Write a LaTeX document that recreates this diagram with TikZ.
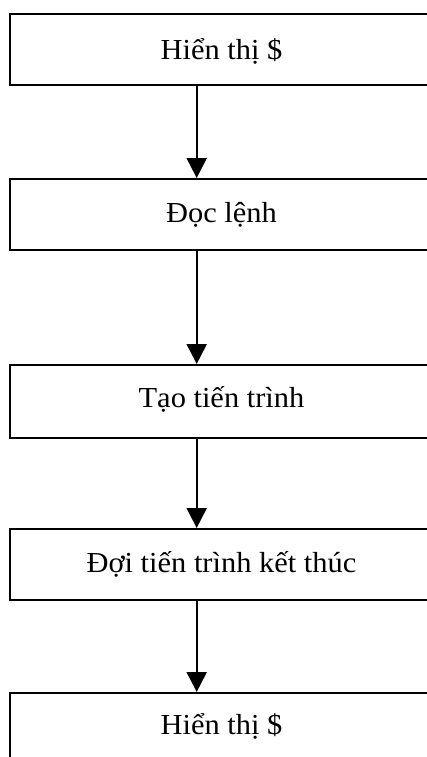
\documentclass[tikz,border=0pt]{standalone}
\usepackage{fontspec}
\setmainfont{Liberation Serif}
\newfontfamily\lbl{Liberation Serif}[FakeStretch=1.05]
\usetikzlibrary{arrows.meta}
\tikzset{
  stepbox/.style={draw=black, line width=2.4pt, minimum width=423pt, minimum height=71pt,
    inner sep=0pt, anchor=north, text depth=0pt,
    font=\lbl\fontsize{29}{33}\selectfont},
  arr/.style={line width=2pt, -{Triangle[width=20pt,length=20pt]}}
}
\begin{document}
\begin{tikzpicture}[x=1pt,y=-1pt]
\useasboundingbox (0,0) rectangle (426,757);
\node[stepbox, text height=19.6pt] (b1) at (221.5,13) {Hiển thị \$};
\node[stepbox, text height=16.4pt] (b2) at (221.5,178) {Đọc lệnh};
\node[stepbox, minimum height=73pt, text height=12.4pt] (b3) at (221.5,364) {Tạo tiến trình};
\node[stepbox, text height=15pt] (b4) at (221.5,528) {Đợi tiến trình kết thúc};
\node[stepbox, text height=11.6pt] (b5) at (221.5,692) {Hiển thị \$};
\draw[arr] ([xshift=-24.8pt]b1.south) -- ([xshift=-24.8pt]b2.north);
\draw[arr] ([xshift=-24.8pt]b2.south) -- ([xshift=-24.8pt]b3.north);
\draw[arr] ([xshift=-24.8pt]b3.south) -- ([xshift=-24.8pt]b4.north);
\draw[arr] ([xshift=-24.8pt]b4.south) -- ([xshift=-24.8pt]b5.north);
\end{tikzpicture}
\end{document}
